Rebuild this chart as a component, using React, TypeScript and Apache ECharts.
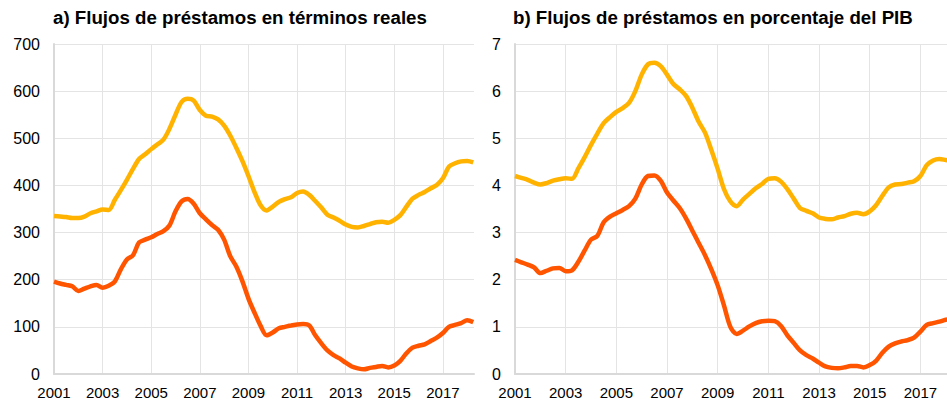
import React, { useEffect, useRef } from "react";
import * as echarts from "echarts";

const BASE_YEAR = 2001;
const tickYears = [2001, 2003, 2005, 2007, 2009, 2011, 2013, 2015, 2017];

const quarters = [
  2001.0, 2001.25, 2001.5, 2001.75, 2002.0, 2002.25, 2002.5, 2002.75,
  2003.0, 2003.25, 2003.5, 2003.75, 2004.0, 2004.25, 2004.5, 2004.75,
  2005.0, 2005.25, 2005.5, 2005.75, 2006.0, 2006.25, 2006.5, 2006.75,
  2007.0, 2007.25, 2007.5, 2007.75, 2008.0, 2008.25, 2008.5, 2008.75,
  2009.0, 2009.25, 2009.5, 2009.75, 2010.0, 2010.25, 2010.5, 2010.75,
  2011.0, 2011.25, 2011.5, 2011.75, 2012.0, 2012.25, 2012.5, 2012.75,
  2013.0, 2013.25, 2013.5, 2013.75, 2014.0, 2014.25, 2014.5, 2014.75,
  2015.0, 2015.25, 2015.5, 2015.75, 2016.0, 2016.25, 2016.5, 2016.75,
  2017.0, 2017.25, 2017.5, 2017.75, 2018.0, 2018.25,
];

// a) real terms
const realYellow = [
  335, 334, 333, 331, 331, 334, 341, 345,
  349, 348, 369, 390, 412, 435, 456, 466,
  477, 487, 497, 520, 550, 577, 584, 580,
  560, 548, 546, 540, 527, 506, 480, 452,
  420, 386, 358, 347, 355, 365, 371, 375,
  384, 387, 380, 367, 353, 338, 332, 325,
  317, 312, 311, 314, 318, 322, 323, 321,
  327, 337, 355, 372, 380, 386, 394, 401,
  415, 440, 447, 451, 452, 449,
];
const realOrange = [
  196, 192, 189, 186, 176, 181, 186, 189,
  183, 187, 196, 222, 243, 252, 279, 285,
  290, 297, 303, 315, 345, 366, 371, 361,
  341, 328, 316, 306, 285, 250, 228, 197,
  160, 130, 102, 82, 88, 97, 100, 103,
  105, 106, 103, 82, 65, 50, 40, 33,
  24, 16, 12, 10, 13, 15, 17, 14,
  18, 28, 44, 56, 60, 63, 70, 77,
  87, 100, 104, 108, 114, 110,
];

// b) percent of GDP
const gdpYellow = [
  4.2, 4.16, 4.12, 4.06, 4.02, 4.05, 4.1, 4.13,
  4.15, 4.14, 4.36, 4.6, 4.86, 5.1, 5.32, 5.45,
  5.56, 5.64, 5.75, 6.0, 6.35, 6.57, 6.6, 6.53,
  6.35, 6.15, 6.04, 5.9, 5.65, 5.35, 5.12, 4.75,
  4.35, 3.92, 3.66, 3.56, 3.7, 3.82, 3.94, 4.03,
  4.14, 4.15, 4.08, 3.92, 3.72, 3.52, 3.46, 3.41,
  3.32, 3.29, 3.28, 3.32, 3.35, 3.4, 3.42, 3.39,
  3.45, 3.58, 3.78, 3.96, 4.02, 4.03, 4.06, 4.09,
  4.2, 4.43, 4.53, 4.56, 4.54, 4.52,
];
const gdpOrange = [
  2.42, 2.37, 2.32, 2.26, 2.14, 2.19, 2.24, 2.25,
  2.18, 2.2, 2.38, 2.62, 2.85, 2.93, 3.22, 3.34,
  3.41, 3.48, 3.56, 3.72, 4.02, 4.2, 4.21, 4.1,
  3.85, 3.68, 3.52, 3.3, 3.04, 2.78, 2.52, 2.22,
  1.88, 1.45, 1.0, 0.85, 0.92, 1.01, 1.08, 1.12,
  1.13, 1.12, 1.02, 0.82, 0.66, 0.5, 0.4, 0.33,
  0.24, 0.16, 0.13, 0.12, 0.14, 0.17, 0.17, 0.14,
  0.19, 0.28, 0.45, 0.58, 0.65, 0.69, 0.72, 0.77,
  0.9, 1.04, 1.08, 1.11, 1.15, 1.17,
];

const YELLOW = "#FFB300";
const ORANGE = "#FF5500";
const FONT = "Liberation Sans, Arial, sans-serif";

const pairs = (vals: number[]) => quarters.map((q, i) => [q - BASE_YEAR, vals[i]]);
const tickOffsets = tickYears.map((y) => y - BASE_YEAR);

function xAxis(gridIndex: number, max: number) {
  return {
    type: "value",
    gridIndex,
    min: 0,
    max,
    axisLine: { show: true, lineStyle: { color: "#d9d9d9", width: 2 } },
    axisTick: { show: false, customValues: tickOffsets },
    axisLabel: {
      customValues: tickOffsets,
      formatter: (v: number) => String(Math.round(v) + BASE_YEAR),
      color: "#000",
      fontSize: 15,
      fontFamily: FONT,
      margin: 11,
    },
    splitLine: { show: true, lineStyle: { color: "#e4e4e4", width: 1 } },
  };
}

function yAxis(gridIndex: number, max: number, interval: number) {
  return {
    type: "value",
    gridIndex,
    min: 0,
    max,
    interval,
    axisLine: { show: true, lineStyle: { color: "#d9d9d9", width: 2 } },
    axisTick: { show: false },
    axisLabel: { color: "#000", fontSize: 16, fontFamily: FONT, margin: 14 },
    splitLine: { show: true, lineStyle: { color: "#e4e4e4", width: 1 } },
  };
}

function line(data: number[][], color: string, idx: number) {
  return {
    type: "line",
    xAxisIndex: idx,
    yAxisIndex: idx,
    data,
    showSymbol: false,
    smooth: 0.3,
    clip: true,
    lineStyle: { color, width: 4.5 },
    itemStyle: { color },
  };
}

export default function App() {
  const ref = useRef<HTMLDivElement>(null);
  useEffect(() => {
    if (!ref.current) return;
    const chart = echarts.init(ref.current, null, { renderer: "svg" });
    chart.setOption({
      animation: false,
      backgroundColor: "#fff",
      title: [
        {
          text: "a) Flujos de préstamos en términos reales",
          left: 53,
          top: 8,
          textStyle: { fontSize: 18.7, fontWeight: "bold", color: "#000", fontFamily: FONT },
          padding: 0,
        },
        {
          text: "b) Flujos de préstamos en porcentaje del PIB",
          left: 513,
          top: 8,
          textStyle: { fontSize: 18.7, fontWeight: "bold", color: "#000", fontFamily: FONT },
          padding: 0,
        },
      ],
      grid: [
        { left: 54, top: 44, width: 420, height: 330 },
        { left: 515, top: 44, width: 432, height: 330 },
      ],
      xAxis: [xAxis(0, 17.28), xAxis(1, 17.05)],
      yAxis: [yAxis(0, 700, 100), yAxis(1, 7, 1)],
      series: [
        line(pairs(realYellow), YELLOW, 0),
        line(pairs(realOrange), ORANGE, 0),
        line(pairs(gdpYellow), YELLOW, 1),
        line(pairs(gdpOrange), ORANGE, 1),
      ],
    });
    return () => chart.dispose();
  }, []);
  return (
    <div
      ref={ref}
      style={{ position: "absolute", left: 0, top: 0, width: 947, height: 401 }}
    />
  );
}
